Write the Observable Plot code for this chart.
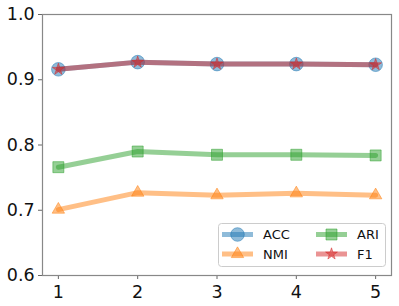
<!DOCTYPE html>
<html>
<head>
<meta charset="utf-8">
<script src="https://cdn.jsdelivr.net/npm/d3@7"></script>
<script src="https://cdn.jsdelivr.net/npm/@observablehq/plot@0.6"></script>
<style>
  body { margin: 0; background: #fff; }
  #wrap { position: relative; width: 399px; height: 306px; font-family: "DejaVu Sans", sans-serif; }
  #legend { position: absolute; left: 218px; top: 223px; }
</style>
</head>
<body>
<div id="wrap"></div>
<script>
const steps = [1, 2, 3, 4, 5];
const xTicks = [1, 2, 3, 4, 5];
const yTicks = [0.6, 0.7, 0.8, 0.9, 1.0];
const seriesNames = ["ACC", "NMI", "ARI", "F1"];
const seriesColors = ["#1f77b4", "#ff7f0e", "#2ca02c", "#d62728"];
const seriesSymbols = ["circle", "triangle", "square", "star"];
const seriesR = [6.8, 4.6, 6.2, 3.7];
const accValues = [0.916, 0.927, 0.924, 0.924, 0.923];
const nmiValues = [0.701, 0.727, 0.723, 0.726, 0.723];
const ariValues = [0.766, 0.790, 0.785, 0.785, 0.784];
const f1Values  = [0.916, 0.927, 0.924, 0.924, 0.923];
const allValues = [accValues, nmiValues, ariValues, f1Values];

const marks = [];
seriesNames.forEach((name, i) => {
  const data = steps.map((s, j) => ({x: s, y: allValues[i][j]}));
  marks.push(Plot.line(data, {x: "x", y: "y", stroke: seriesColors[i], strokeWidth: 5, strokeOpacity: 0.5}));
  marks.push(Plot.dot(data, {x: "x", y: "y", symbol: seriesSymbols[i], r: seriesR[i],
    fill: seriesColors[i], fillOpacity: 0.5, stroke: seriesColors[i], strokeOpacity: 0.5, strokeWidth: 1}));
});

const chart = Plot.plot({
  width: 399,
  height: 306,
  marginLeft: 42,
  marginRight: 8,
  marginTop: 14,
  marginBottom: 31,
  style: {fontFamily: "DejaVu Sans, sans-serif", fontSize: "17.5px", color: "#111", background: "#fff"},
  x: {domain: [0.8, 5.2]},
  y: {domain: [0.6, 1.0]},
  marks: [
    Plot.axisX({ticks: xTicks, tickFormat: d => String(d), tickSize: 4, tickPadding: 6, label: null, stroke: "#666", fontSize: 17.5, fill: "#111"}),
    Plot.axisY({ticks: yTicks, tickFormat: d3.format(".1f"), tickSize: 4, tickPadding: 3.8, label: null, stroke: "#666", fontSize: 17.5, fill: "#111"}),
    ...marks,
    Plot.frame({stroke: "#888", strokeWidth: 1.2})
  ]
});
document.getElementById("wrap").appendChild(chart);

// Legend
const lw = 168, lh = 44;
const legend = d3.select("#wrap").append("svg").attr("id", "legend")
  .attr("width", lw).attr("height", lh);
legend.append("rect").attr("x", 0.5).attr("y", 0.5).attr("width", lw - 1).attr("height", lh - 1)
  .attr("rx", 3).attr("fill", "rgba(255,255,255,0.8)").attr("stroke", "#ccc");
const colX = [4, 98];
const rowY = [11.5, 31];
const symMap = {circle: d3.symbolCircle, triangle: d3.symbolTriangle, square: d3.symbolSquare, star: d3.symbolStar};
seriesNames.forEach((name, k) => {
  const cx = colX[Math.floor(k / 2)], cy = rowY[k % 2];
  const g = legend.append("g");
  g.append("line").attr("x1", cx).attr("x2", cx + 31).attr("y1", cy).attr("y2", cy)
    .attr("stroke", seriesColors[k]).attr("stroke-width", 5).attr("stroke-opacity", 0.5);
  g.append("path").attr("d", d3.symbol(symMap[seriesSymbols[k]], Math.PI * seriesR[k] * seriesR[k])())
    .attr("transform", `translate(${cx + 15.5},${cy})`)
    .attr("fill", seriesColors[k]).attr("fill-opacity", 0.5)
    .attr("stroke", seriesColors[k]).attr("stroke-opacity", 0.5);
  g.append("text").attr("x", cx + 41).attr("y", cy + 4.8).text(name)
    .attr("font-size", "13px").attr("fill", "#111").attr("font-family", "DejaVu Sans, sans-serif");
});
</script>
</body>
</html>
